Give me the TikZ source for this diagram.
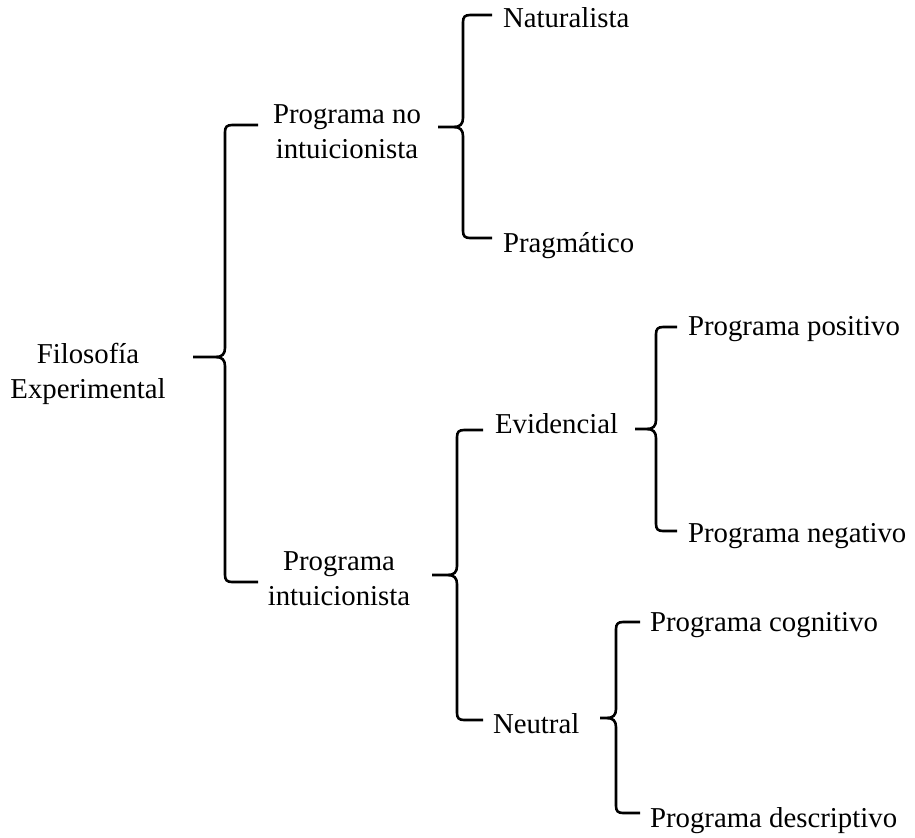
\documentclass[tikz,border=0pt]{standalone}
\usepackage{fontspec}
\setmainfont{Liberation Serif}
\newcommand{\wbrace}[6]{% x, top, mid, bot, tip x, arm x
  \draw[bracestyle] (#6,#2) -- ({#1+7},#2) .. controls ({#1+2},#2) and (#1,{#2+2}) .. (#1,{#2+7})
    -- (#1,{#3-9}) .. controls (#1,{#3-3}) and ({#1-3},#3) .. ({#1-9},#3) -- (#5,#3);
  \draw[bracestyle] (#6,#4) -- ({#1+7},#4) .. controls ({#1+2},#4) and (#1,{#4-2}) .. (#1,{#4-7})
    -- (#1,{#3+9}) .. controls (#1,{#3+3}) and ({#1-3},#3) .. ({#1-9},#3);
}
\begin{document}
\begin{tikzpicture}[x=0.5pt,y=-0.5pt,
  bracestyle/.style={line width=1.3pt,line cap=butt,line join=round,black},
  lbl/.style={inner sep=0pt,outer sep=0pt,font=\fontsize{14.4}{17.5}\selectfont}]
\useasboundingbox (0,0) rectangle (915,837);
% braces
\wbrace{225}{125}{357}{582}{193}{258}
\wbrace{463}{15}{127}{238}{438}{492}
\wbrace{457}{430}{575}{720}{432}{483}
\wbrace{656}{327}{429}{531}{635}{677}
\wbrace{616}{622}{718}{813}{600}{640}
% labels
\node[lbl,anchor=base] (fe) at (88,398) {\setlength{\tabcolsep}{0pt}\begin{tabular}[b]{c}Filosofía\\Experimental\end{tabular}};
\node[lbl,anchor=base] (pni) at (347,158) {\setlength{\tabcolsep}{0pt}\begin{tabular}[b]{c}Programa no\\intuicionista\end{tabular}};
\node[lbl,anchor=base] (pi) at (339,605) {\setlength{\tabcolsep}{0pt}\begin{tabular}[b]{c}Programa\\intuicionista\end{tabular}};
\node[lbl,anchor=base west] (nat) at (503,27) {Naturalista};
\node[lbl,anchor=base west] (prag) at (503,252) {Pragmático};
\node[lbl,anchor=base west] (evid) at (495,433) {Evidencial};
\node[lbl,anchor=base west] (neut) at (493,733) {Neutral};
\node[lbl,anchor=base west] (ppos) at (688,335) {Programa positivo};
\node[lbl,anchor=base west] (pneg) at (688,542) {Programa negativo};
\node[lbl,anchor=base west] (pcog) at (650,631) {Programa cognitivo};
\node[lbl,anchor=base west] (pdes) at (650,827) {Programa descriptivo};
\end{tikzpicture}
\end{document}
